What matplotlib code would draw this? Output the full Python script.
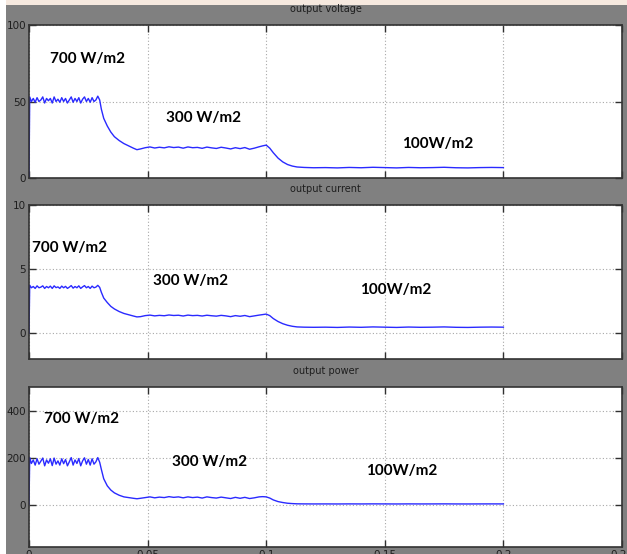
import matplotlib
matplotlib.use('Agg')
from matplotlib import pyplot as plt
from matplotlib.patches import Rectangle

# simulation time (s)
t = [
    0.0000, 0.0003,
    0.0010, 0.0018, 0.0026, 0.0034, 0.0042, 0.0050, 0.0058, 0.0066, 0.0074, 0.0082,
    0.0090, 0.0098, 0.0106, 0.0114, 0.0122, 0.0130, 0.0138, 0.0146, 0.0154, 0.0162,
    0.0170, 0.0178, 0.0186, 0.0194, 0.0202, 0.0210, 0.0218, 0.0226, 0.0234, 0.0242,
    0.0250, 0.0258, 0.0266, 0.0274, 0.0282, 0.0290, 0.0298,
    0.0305, 0.0315, 0.0330, 0.0345, 0.0360, 0.0380, 0.0400, 0.0420, 0.0440, 0.0455,
    0.0470, 0.0490, 0.0510, 0.0530, 0.0550, 0.0570, 0.0590, 0.0610, 0.0630, 0.0650,
    0.0670, 0.0690, 0.0710, 0.0730, 0.0750, 0.0770, 0.0790, 0.0810, 0.0830, 0.0850,
    0.0870, 0.0890, 0.0910, 0.0930, 0.0950, 0.0970, 0.0985, 0.1000,
    0.1015, 0.1030, 0.1050, 0.1070, 0.1090, 0.1110, 0.1130,
    0.1160, 0.1200, 0.1250, 0.1300, 0.1350, 0.1400, 0.1450, 0.1500, 0.1550, 0.1600,
    0.1650, 0.1700, 0.1750, 0.1800, 0.1850, 0.1900, 0.1950, 0.2000,
]

voltage = [
    0, 53,
    50, 52, 49.5, 52.5, 50, 51, 53, 49, 52, 50.5,
    52, 49, 53, 50, 51.5, 49.5, 52.5, 50, 52, 49,
    51, 53, 49.5, 52, 50, 52.5, 49, 51.5, 53, 50,
    52, 49.5, 52.5, 50, 51, 53.5, 51,
    45, 39, 34, 30, 27, 24.5, 22.5, 21, 19.5, 18.5,
    19.0, 19.8, 20.3, 19.6, 20.1, 19.7, 20.4, 19.9, 20.2, 19.5,
    20.3, 19.8, 20.0, 19.4, 20.2, 19.7, 19.3, 20.1, 19.6, 19.0,
    19.8, 19.2, 19.9, 18.8, 19.5, 20.4, 21.0, 21.5,
    19.5, 16.5, 13, 10.5, 8.8, 7.8, 7.2,
    6.9, 6.7, 6.8, 6.6, 6.9, 6.7, 7.0, 6.8, 6.6, 6.9,
    6.7, 6.8, 7.0, 6.7, 6.6, 6.8, 6.9, 6.8,
]

current = [
    0, 3.75,
    3.55, 3.65, 3.5, 3.7, 3.55, 3.6, 3.7, 3.5, 3.65, 3.55,
    3.68, 3.5, 3.7, 3.56, 3.62, 3.5, 3.68, 3.55, 3.66, 3.5,
    3.6, 3.72, 3.52, 3.65, 3.55, 3.7, 3.5, 3.62, 3.72, 3.55,
    3.65, 3.5, 3.68, 3.55, 3.6, 3.74, 3.58,
    3.2, 2.75, 2.4, 2.1, 1.9, 1.7, 1.55, 1.45, 1.35, 1.28,
    1.3, 1.38, 1.42, 1.36, 1.4, 1.37, 1.43, 1.39, 1.41, 1.35,
    1.42, 1.38, 1.4, 1.35, 1.41, 1.37, 1.34, 1.4, 1.36, 1.3,
    1.38, 1.33, 1.39, 1.3, 1.36, 1.42, 1.46, 1.5,
    1.38, 1.15, 0.92, 0.75, 0.63, 0.55, 0.5,
    0.48, 0.47, 0.48, 0.46, 0.49, 0.47, 0.5, 0.48, 0.46, 0.49,
    0.47, 0.48, 0.5, 0.47, 0.46, 0.48, 0.49, 0.48,
]

power = [
    0, 200,
    175, 190, 168, 195, 172, 185, 198, 165, 190, 176,
    195, 166, 198, 172, 186, 168, 195, 174, 192, 165,
    182, 200, 168, 190, 175, 196, 165, 186, 199, 172,
    192, 168, 195, 172, 182, 200, 180,
    150, 110, 80, 62, 50, 40, 33, 30, 27, 25,
    27, 30, 33, 29, 32, 30, 34, 31, 33, 29,
    33, 30, 32, 28, 33, 30, 28, 32, 29, 26,
    31, 27, 31, 26, 29, 33, 34, 33,
    28, 20, 13, 9, 6, 4.5, 3.5,
    3.2, 3.0, 3.1, 2.9, 3.2, 3.0, 3.3, 3.1, 2.9, 3.2,
    3.0, 3.1, 3.3, 3.0, 2.9, 3.1, 3.2, 3.1,
]

titles = ['output voltage', 'output current', 'output power']
ylims = [(0, 100), (-2, 10), (-180, 500)]
yticks = [[0, 50, 100], [0, 5, 10], [0, 200, 400]]
xticks = [0, 0.05, 0.1, 0.15, 0.2, 0.25]
xticklabels = ['0', '0.05', '0.1', '0.15', '0.2', '0.25']

irradiance = ['700 W/m2', '300 W/m2', '100W/m2']
label_pos = [
    [(0.0089, 78), (0.0578, 39), (0.1573, 22)],
    [(0.0013, 6.65), (0.0523, 4.08), (0.1395, 3.38)],
    [(0.0063, 364), (0.0603, 181), (0.1421, 143)],
]

W, H = 627, 554
fig = plt.figure(figsize=(W / 100, H / 100), dpi=100, facecolor='white')

# scope window background
fig.patches.append(Rectangle((6 / W, 0), 1 - 6 / W, 1 - 5 / H, transform=fig.transFigure,
                             facecolor='#808080', edgecolor='none', zorder=-2))
fig.patches.append(Rectangle((6 / W, 1 - 5 / H), 1 - 6 / W, 5 / H, transform=fig.transFigure,
                             facecolor='#f6e9df', edgecolor='none', zorder=-2))

# axes boxes in pixels: (top, bottom)
boxes = [(25, 178), (205, 359), (387, 547)]
left, right = 29, 622
series = [voltage, current, power]

for i in range(3):
    top, bottom = boxes[i]
    ax = fig.add_axes([left / W, (H - bottom) / H, (right - left) / W, (bottom - top) / H])
    ax.set_facecolor('white')
    ax.plot(t, series[i], color='#2a2aff', linewidth=1.0)
    ax.set_xlim(0, 0.25)
    ax.set_ylim(*ylims[i])
    ax.set_xticks(xticks)
    ax.set_yticks(yticks[i])
    ax.set_yticklabels([str(v) for v in yticks[i]])
    if i == 2:
        ax.set_xticklabels(xticklabels)
    else:
        ax.set_xticklabels([])
    ax.tick_params(direction='in', length=5, width=1, color='#303030', labelsize=7.5,
                   labelcolor='#1e1e1e', pad=2, top=True, right=True)
    ax.grid(True, color='#a8a8a8', linestyle=(0, (1, 2)), linewidth=0.8)
    for s in ax.spines.values():
        s.set_color('#333333')
        s.set_linewidth(1.2)

    for lab, (x, y) in zip(irradiance, label_pos[i]):
        ax.text(x, y, lab, fontsize=11, fontweight='bold', family='Lato',
                color='black', ha='left', va='center')

    fig.text((left + right) / 2 / W, 1 - (top - 16) / H, titles[i], fontsize=7,
             color='#1e1e1e', ha='center', va='center')

plt.savefig('out.png', dpi=100, facecolor=fig.get_facecolor())
